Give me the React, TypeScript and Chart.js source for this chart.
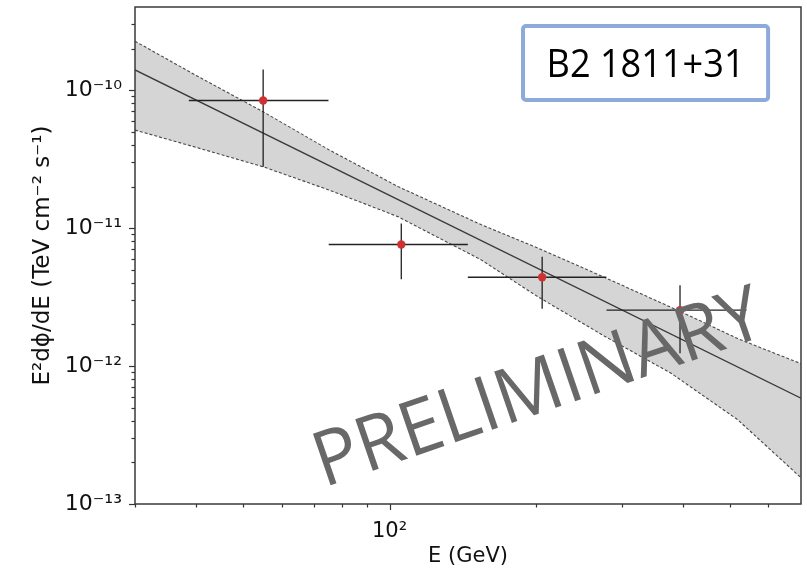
import React, { useEffect, useRef } from 'react';
import { Chart, registerables } from 'chart.js';
Chart.register(...registerables);

// ---- data ----
const pointE = [55, 105.7, 205.8, 395];
const pointFlux = [8.4e-11, 7.6e-12, 4.4e-12, 2.54e-12];
const pointELow = [38.7, 75, 144.8, 279];
const pointEHigh = [74.9, 144.8, 278.8, 541];
const pointFluxLow = [2.78e-11, 4.25e-12, 2.6e-12, 1.24e-12];
const pointFluxHigh = [1.41e-10, 1.08e-11, 6.2e-12, 3.85e-12];

const fitE = [30, 700];
const fitFlux = [1.4e-10, 5.85e-13];

const bandUpperE = [30, 40, 55, 75, 104, 154, 201, 276, 396, 519, 700];
const bandUpperFlux = [2.26e-10, 1.28e-10, 6.96e-11, 3.7e-11, 2.0e-11, 1.06e-11, 7.2e-12, 4.4e-12, 2.48e-12, 1.58e-12, 1.04e-12];
const bandLowerE = [30, 40, 55, 75, 104, 154, 201, 276, 378, 519, 700];
const bandLowerFlux = [5.13e-11, 3.85e-11, 2.78e-11, 1.89e-11, 1.21e-11, 5.9e-12, 3.2e-12, 1.65e-12, 8.9e-13, 4.08e-13, 1.55e-13];

const xMin = 30;
const xMax = 700;
const yMin = 1e-13;
const yMax = 4e-10;

const xTickValues = [30, 40, 50, 60, 70, 80, 90, 100, 200, 300, 400, 500, 600];
const xMajorValues = [100];
const xMajorLabels = ['10²'];
const yDecades = [1e-13, 1e-12, 1e-11, 1e-10];
const yMajorLabels = ['10⁻¹³', '10⁻¹²', '10⁻¹¹', '10⁻¹⁰'];
const yMinorMultipliers = [2, 3, 4, 5, 6, 7, 8, 9];

const xTitle = 'E (GeV)';
const yTitle = 'E²dϕ/dE (TeV cm⁻² s⁻¹)';
const sourceName = 'B2 1811+31';
const watermark = 'PRELIMINARY';

const FONT = 'DejaVu Sans';

const near = (a: number, b: number) => Math.abs(Math.log10(a) - Math.log10(b)) < 1e-6;

const yTickValues: number[] = [];
yDecades.forEach((d) => {
  yTickValues.push(d);
  yMinorMultipliers.forEach((m) => {
    const v = d * m;
    if (v < yMax * 0.999) yTickValues.push(v);
  });
});

const decorPlugin = {
  id: 'decor',
  afterDatasetsDraw(chart: any) {
    const ctx = chart.ctx as CanvasRenderingContext2D;
    const a = chart.chartArea;
    const w = a.right - a.left;
    const h = a.bottom - a.top;
    ctx.save();
    // ticks
    ctx.strokeStyle = '#333';
    ctx.lineWidth = 1.2;
    const xs = chart.scales.x;
    xs.ticks.forEach((t: any) => {
      const major = xMajorValues.some((m) => near(m, t.value));
      const px = Math.round(xs.getPixelForValue(t.value)) + 0.5;
      ctx.beginPath();
      ctx.moveTo(px, a.bottom);
      ctx.lineTo(px, a.bottom + (major ? 6 : 3.5));
      ctx.stroke();
    });
    const ys = chart.scales.y;
    ys.ticks.forEach((t: any) => {
      const major = yDecades.some((m) => near(m, t.value));
      const py = Math.round(ys.getPixelForValue(t.value)) + 0.5;
      ctx.beginPath();
      ctx.moveTo(a.left, py);
      ctx.lineTo(a.left - (major ? 6 : 3.5), py);
      ctx.stroke();
    });
    // frame
    ctx.strokeStyle = '#3a3a3a';
    ctx.lineWidth = 1.5;
    ctx.strokeRect(a.left, a.top, w, h);

    // watermark
    ctx.save();
    ctx.translate(a.left + 0.617 * w, a.top + 0.813 * h);
    ctx.rotate((-19 * Math.PI) / 180);
    ctx.font = '500 76px "Open Sans"';
    ctx.fillStyle = '#686868';
    ctx.textAlign = 'center';
    ctx.textBaseline = 'alphabetic';
    const mw = ctx.measureText(watermark).width;
    ctx.scale(470 / mw, 1);
    ctx.fillText(watermark, 0, 0);
    ctx.restore();

    // source box
    const bx = a.left + 0.5826 * w;
    const by = a.top + 0.0382 * h;
    const bw = 0.368 * w;
    const bh = 0.1489 * h;
    ctx.beginPath();
    (ctx as any).roundRect(bx, by, bw, bh, 3);
    ctx.fillStyle = '#fff';
    ctx.fill();
    ctx.lineWidth = 4;
    ctx.strokeStyle = '#8eaadb';
    ctx.stroke();
    ctx.save();
    ctx.translate(bx + bw / 2, by + bh / 2 + 14);
    ctx.font = '39px "Open Sans"';
    ctx.fillStyle = '#000';
    ctx.textAlign = 'center';
    ctx.textBaseline = 'alphabetic';
    const sw = ctx.measureText(sourceName).width;
    ctx.scale(198 / sw, 1);
    ctx.fillText(sourceName, 0, 0);
    ctx.restore();
    ctx.restore();
  },
};

export default function App() {
  const ref = useRef<HTMLCanvasElement>(null);
  useEffect(() => {
    const canvas = ref.current;
    if (!canvas) return;

    const points = pointE.map((e, i) => ({ x: e, y: pointFlux[i] }));
    const hBars: any[] = [];
    const vBars: any[] = [];
    pointE.forEach((e, i) => {
      hBars.push({ x: pointELow[i], y: pointFlux[i] }, { x: pointEHigh[i], y: pointFlux[i] }, { x: pointEHigh[i], y: null });
      vBars.push({ x: e, y: pointFluxLow[i] }, { x: e, y: pointFluxHigh[i] }, { x: e, y: null });
    });
    const fit = fitE.map((e, i) => ({ x: e, y: fitFlux[i] }));
    const upper = bandUpperE.map((e, i) => ({ x: e, y: bandUpperFlux[i] }));
    const lower = bandLowerE.map((e, i) => ({ x: e, y: bandLowerFlux[i] }));
    const band = [...upper, ...lower.slice().reverse()];

    const chart = new Chart(canvas, {
      type: 'line',
      data: {
        datasets: [
          { data: points, showLine: false, pointRadius: 4.2, pointBackgroundColor: '#d03030', pointBorderWidth: 0, order: 0 } as any,
          { data: hBars, borderColor: '#222', borderWidth: 1.3, pointRadius: 0, spanGaps: false, order: 1 },
          { data: vBars, borderColor: '#222', borderWidth: 1.3, pointRadius: 0, spanGaps: false, order: 1 },
          { data: fit, borderColor: '#3a3a3a', borderWidth: 1.3, pointRadius: 0, order: 2 },
          { data: upper, borderColor: '#484848', borderWidth: 1.1, borderDash: [3, 2], pointRadius: 0, order: 3 },
          { data: lower, borderColor: '#484848', borderWidth: 1.1, borderDash: [3, 2], pointRadius: 0, order: 3 },
          { data: band, borderColor: 'transparent', borderWidth: 0, backgroundColor: '#d5d5d5', fill: 'shape', pointRadius: 0, order: 4 } as any,
        ],
      },
      options: {
        animation: false,
        responsive: false,
        events: [],
        layout: { padding: { top: 7, right: 6, left: 0, bottom: 0 } },
        plugins: { legend: { display: false }, tooltip: { enabled: false } },
        scales: {
          x: {
            type: 'logarithmic',
            min: xMin,
            max: xMax,
            afterFit: (s: any) => { s.height = 66; s.paddingLeft = 0; s.paddingRight = 0; },
            afterBuildTicks: (s: any) => { s.ticks = xTickValues.map((v) => ({ value: v })); },
            grid: { display: false },
            border: { display: false },
            ticks: {
              autoSkip: false,
              maxRotation: 0,
              padding: 7,
              color: '#111',
              font: { family: FONT, size: 21 },
              callback: (v: any) => {
                const idx = xMajorValues.findIndex((m) => near(m, Number(v)));
                return idx >= 0 ? xMajorLabels[idx] : '';
              },
            },
            title: { display: true, text: xTitle, color: '#111', font: { family: FONT, size: 21, lineHeight: 1.2 }, padding: { top: 0, bottom: 1 } },
          },
          y: {
            type: 'logarithmic',
            min: yMin,
            max: yMax,
            afterFit: (s: any) => { s.width = 135; s.paddingTop = 0; s.paddingBottom = 0; },
            afterBuildTicks: (s: any) => { s.ticks = yTickValues.map((v) => ({ value: v })); },
            grid: { display: false },
            border: { display: false },
            ticks: {
              autoSkip: false,
              padding: 5,
              color: '#111',
              font: { family: FONT, size: 22 },
              callback: (v: any) => {
                const idx = yDecades.findIndex((m) => near(m, Number(v)));
                return idx >= 0 ? yMajorLabels[idx] : '';
              },
            },
            title: { display: true, text: yTitle, color: '#111', font: { family: FONT, size: 23, lineHeight: 1.2 }, padding: { top: 29, bottom: 0 } },
          },
        },
      } as any,
      plugins: [decorPlugin],
    });
    return () => chart.destroy();
  }, []);

  return (
    <div style={{ position: 'absolute', left: 0, top: 0, width: 807, height: 570, background: '#fff' }}>
      <canvas ref={ref} width={807} height={570} style={{ display: 'block' }} />
    </div>
  );
}
